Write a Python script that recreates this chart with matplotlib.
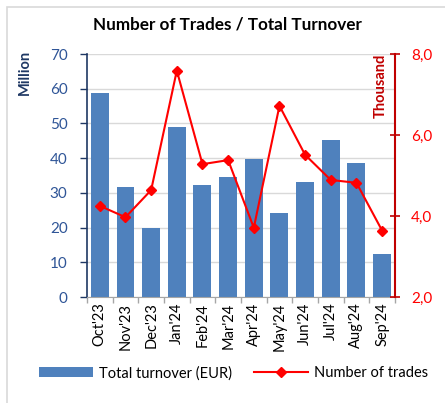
import matplotlib.pyplot as plt
from matplotlib.patches import Rectangle
import numpy as np

plt.rcParams['font.family'] = ['Lato', 'DejaVu Sans']

months = ["Oct'23", "Nov'23", "Dec'23", "Jan'24", "Feb'24", "Mar'24",
          "Apr'24", "May'24", "Jun'24", "Jul'24", "Aug'24", "Sep'24"]
turnover = [58.8, 31.8, 19.9, 49.0, 32.4, 34.6, 39.7, 24.3, 33.0, 45.1, 38.6, 12.3]
trades = [4.25, 3.97, 4.64, 7.59, 5.28, 5.38, 3.71, 6.72, 5.51, 4.89, 4.82, 3.64]

navy = '#1F3864'
blue_txt = '#2F5597'
bar_col = '#4F81BD'
red = '#FF0000'
dark_red = '#C00000'

fig = plt.figure(figsize=(4.45, 4.03), dpi=100)
fig.patches.append(Rectangle((7 / 445, -0.1), 1.2, 1 - 7 / 403 + 0.1,
                             transform=fig.transFigure, fill=False,
                             edgecolor='#D9D9D9', linewidth=1.2))

ax = fig.add_axes([0.1955, 0.263, 0.692, 0.603])
x = np.arange(len(months))
bars = ax.bar(x, turnover, width=0.7, color=bar_col, zorder=2,
              label='Total turnover (EUR)')
ax.set_xlim(-0.5, len(months) - 0.5)
ax.set_ylim(0, 70)
ax.set_yticks(range(0, 71, 10))
ax.grid(axis='y', color='#D9D9D9', linewidth=1, zorder=0)
ax.set_axisbelow(True)

ax.set_xticks(x)
ax.set_xticklabels(months, rotation=90, fontsize=10.5, color='black')
ax.tick_params(axis='x', which='major', length=0, pad=4)
ax.set_xticks(np.arange(-0.5, len(months)), minor=True)
ax.tick_params(axis='x', which='minor', length=4, color='#A6A6A6', width=1)

ax.tick_params(axis='y', colors=navy, labelcolor=blue_txt, labelsize=11,
               length=5, width=1, pad=9)
ax.spines['left'].set_color(navy)
ax.spines['left'].set_linewidth(1.2)
ax.spines['bottom'].set_color('#A6A6A6')
ax.spines['top'].set_visible(False)
ax.spines['right'].set_visible(False)

ax2 = ax.twinx()
line, = ax2.plot(x, trades, color=red, linewidth=1.5, marker='D', markersize=5,
                 label='Number of trades', zorder=3)
ax2.set_ylim(2, 8)
ax2.set_yticks([2, 4, 6, 8])
ax2.set_yticklabels(['2,0', '4,0', '6,0', '8,0'])
ax2.tick_params(axis='y', colors=dark_red, labelcolor=red, labelsize=11,
                direction='inout', length=7, width=1.2, pad=8)
ax2.spines['right'].set_color(dark_red)
ax2.spines['right'].set_linewidth(1.5)
for s in ['left', 'top', 'bottom']:
    ax2.spines[s].set_visible(False)

fig.text(0.512, 0.938, 'Number of Trades / Total Turnover', ha='center', va='center',
         fontsize=12.3, fontweight='bold')
fig.text(0.056, 0.821, 'Million', rotation=90, ha='center', va='center',
         color=navy, fontweight='bold', fontsize=10.5)
fig.text(0.856, 0.787, 'Thousand', rotation=90, ha='center', va='center',
         color=dark_red, fontweight='bold', fontsize=10.5)

fig.legend([bars, line], ['Total turnover (EUR)', 'Number of trades'],
           loc='center', bbox_to_anchor=(0.525, 0.074), ncol=2, frameon=False,
           fontsize=10.5, handlelength=3.7, columnspacing=1.5, handletextpad=0.4)

fig.savefig('out.png', dpi=100)
